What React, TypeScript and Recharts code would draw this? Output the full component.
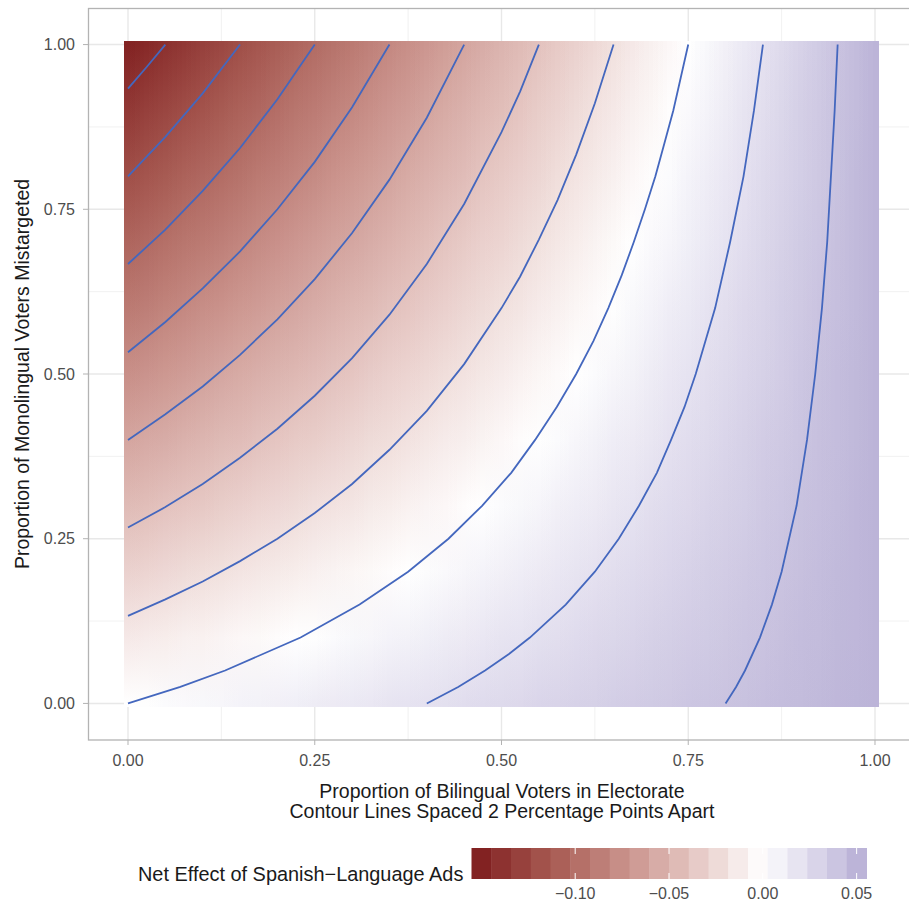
import React from 'react';
import {
  ComposedChart,
  XAxis,
  YAxis,
  CartesianGrid,
  ReferenceArea,
  Scatter,
} from 'recharts';

const FONT = '"Liberation Sans", Arial, Helvetica, sans-serif';

// axis breaks
const xTicks = [0, 0.25, 0.5, 0.75, 1];
const yTicks = [0, 0.25, 0.5, 0.75, 1];
const xMinor = [0.125, 0.375, 0.625, 0.875];
const yMinor = [0.125, 0.375, 0.625, 0.875];

// heatmap grid: one column per x value, entries for y = 0, 0.1, ..., 1
const xGrid = [
  0, 0.025, 0.05, 0.075, 0.1, 0.125, 0.15, 0.175, 0.2, 0.225, 0.25, 0.275, 0.3, 0.325,
  0.35, 0.375, 0.4, 0.425, 0.45, 0.475, 0.5, 0.525, 0.55, 0.575, 0.6, 0.625, 0.65,
  0.675, 0.7, 0.725, 0.75, 0.775, 0.8, 0.825, 0.85, 0.875, 0.9, 0.925, 0.95, 0.975, 1,
];
const yGrid = [0, 0.1, 0.2, 0.3, 0.4, 0.5, 0.6, 0.7, 0.8, 0.9, 1];

const netEffect = [
  [0.000, -0.015, -0.030, -0.045, -0.060, -0.075, -0.090, -0.105, -0.120, -0.135, -0.150],
  [0.001, -0.013, -0.028, -0.043, -0.057, -0.072, -0.087, -0.101, -0.116, -0.130, -0.145],
  [0.003, -0.012, -0.026, -0.040, -0.055, -0.069, -0.083, -0.097, -0.112, -0.126, -0.140],
  [0.004, -0.010, -0.024, -0.038, -0.052, -0.066, -0.080, -0.093, -0.107, -0.121, -0.135],
  [0.005, -0.009, -0.022, -0.036, -0.049, -0.063, -0.076, -0.090, -0.103, -0.117, -0.130],
  [0.006, -0.007, -0.020, -0.033, -0.046, -0.059, -0.073, -0.086, -0.099, -0.112, -0.125],
  [0.008, -0.005, -0.018, -0.031, -0.044, -0.056, -0.069, -0.082, -0.095, -0.107, -0.120],
  [0.009, -0.004, -0.016, -0.028, -0.041, -0.053, -0.066, -0.078, -0.090, -0.103, -0.115],
  [0.010, -0.002, -0.014, -0.026, -0.038, -0.050, -0.062, -0.074, -0.086, -0.098, -0.110],
  [0.011, 0.000, -0.012, -0.024, -0.035, -0.047, -0.059, -0.070, -0.082, -0.093, -0.105],
  [0.013, 0.001, -0.010, -0.021, -0.033, -0.044, -0.055, -0.066, -0.078, -0.089, -0.100],
  [0.014, 0.003, -0.008, -0.019, -0.030, -0.041, -0.052, -0.062, -0.073, -0.084, -0.095],
  [0.015, 0.005, -0.006, -0.017, -0.027, -0.038, -0.048, -0.059, -0.069, -0.080, -0.090],
  [0.016, 0.006, -0.004, -0.014, -0.024, -0.034, -0.045, -0.055, -0.065, -0.075, -0.085],
  [0.018, 0.008, -0.002, -0.012, -0.022, -0.031, -0.041, -0.051, -0.061, -0.070, -0.080],
  [0.019, 0.009, 0.000, -0.009, -0.019, -0.028, -0.038, -0.047, -0.056, -0.066, -0.075],
  [0.020, 0.011, 0.002, -0.007, -0.016, -0.025, -0.034, -0.043, -0.052, -0.061, -0.070],
  [0.021, 0.013, 0.004, -0.005, -0.013, -0.022, -0.031, -0.039, -0.048, -0.056, -0.065],
  [0.023, 0.014, 0.006, -0.002, -0.011, -0.019, -0.027, -0.035, -0.044, -0.052, -0.060],
  [0.024, 0.016, 0.008, 0.000, -0.008, -0.016, -0.024, -0.031, -0.039, -0.047, -0.055],
  [0.025, 0.018, 0.010, 0.003, -0.005, -0.013, -0.020, -0.028, -0.035, -0.043, -0.050],
  [0.026, 0.019, 0.012, 0.005, -0.002, -0.009, -0.017, -0.024, -0.031, -0.038, -0.045],
  [0.028, 0.021, 0.014, 0.007, 0.001, -0.006, -0.013, -0.020, -0.027, -0.033, -0.040],
  [0.029, 0.022, 0.016, 0.010, 0.003, -0.003, -0.010, -0.016, -0.022, -0.029, -0.035],
  [0.030, 0.024, 0.018, 0.012, 0.006, 0.000, -0.006, -0.012, -0.018, -0.024, -0.030],
  [0.031, 0.026, 0.020, 0.014, 0.009, 0.003, -0.003, -0.008, -0.014, -0.019, -0.025],
  [0.033, 0.027, 0.022, 0.017, 0.012, 0.006, 0.001, -0.004, -0.010, -0.015, -0.020],
  [0.034, 0.029, 0.024, 0.019, 0.014, 0.009, 0.005, 0.000, -0.005, -0.010, -0.015],
  [0.035, 0.031, 0.026, 0.022, 0.017, 0.013, 0.008, 0.004, -0.001, -0.006, -0.010],
  [0.036, 0.032, 0.028, 0.024, 0.020, 0.016, 0.012, 0.007, 0.003, -0.001, -0.005],
  [0.038, 0.034, 0.030, 0.026, 0.023, 0.019, 0.015, 0.011, 0.008, 0.004, 0.000],
  [0.039, 0.035, 0.032, 0.029, 0.025, 0.022, 0.019, 0.015, 0.012, 0.008, 0.005],
  [0.040, 0.037, 0.034, 0.031, 0.028, 0.025, 0.022, 0.019, 0.016, 0.013, 0.010],
  [0.041, 0.039, 0.036, 0.033, 0.031, 0.028, 0.026, 0.023, 0.020, 0.018, 0.015],
  [0.043, 0.040, 0.038, 0.036, 0.034, 0.031, 0.029, 0.027, 0.025, 0.022, 0.020],
  [0.044, 0.042, 0.040, 0.038, 0.036, 0.034, 0.033, 0.031, 0.029, 0.027, 0.025],
  [0.045, 0.044, 0.042, 0.041, 0.039, 0.038, 0.036, 0.035, 0.033, 0.032, 0.030],
  [0.046, 0.045, 0.044, 0.043, 0.042, 0.041, 0.040, 0.038, 0.037, 0.036, 0.035],
  [0.048, 0.047, 0.046, 0.045, 0.044, 0.044, 0.043, 0.042, 0.041, 0.041, 0.040],
  [0.049, 0.048, 0.048, 0.048, 0.047, 0.047, 0.046, 0.046, 0.046, 0.045, 0.045],
  [0.050, 0.050, 0.050, 0.050, 0.050, 0.050, 0.050, 0.050, 0.050, 0.050, 0.050],
];

// contour lines, 2 points apart: [x, y]
const contourM14 = [[0, 0.933], [0.025, 0.966], [0.05, 1]];
const contourM12 = [[0, 0.8], [0.05, 0.86], [0.1, 0.926], [0.15, 1]];
const contourM10 = [[0, 0.667], [0.05, 0.719], [0.1, 0.778], [0.15, 0.843], [0.2, 0.917], [0.25, 1]];
const contourM08 = [
  [0, 0.533], [0.05, 0.579], [0.1, 0.63], [0.15, 0.686], [0.2, 0.75], [0.25, 0.822],
  [0.3, 0.905], [0.35, 1],
];
const contourM06 = [
  [0, 0.4], [0.05, 0.439], [0.1, 0.481], [0.15, 0.529], [0.2, 0.583], [0.25, 0.644],
  [0.3, 0.714], [0.35, 0.795], [0.4, 0.889], [0.45, 1],
];
const contourM04 = [
  [0, 0.267], [0.05, 0.298], [0.1, 0.333], [0.15, 0.373], [0.2, 0.417], [0.25, 0.467],
  [0.3, 0.524], [0.35, 0.59], [0.4, 0.667], [0.45, 0.758], [0.5, 0.867], [0.525, 0.929], [0.55, 1],
];
const contourM02 = [
  [0, 0.133], [0.05, 0.158], [0.1, 0.185], [0.15, 0.216], [0.2, 0.25], [0.25, 0.289],
  [0.3, 0.333], [0.35, 0.385], [0.4, 0.444], [0.45, 0.515], [0.5, 0.6], [0.525, 0.648],
  [0.55, 0.704], [0.575, 0.764], [0.6, 0.833], [0.625, 0.911], [0.65, 1],
];
const contour00 = [
  [0, 0], [0.07, 0.025], [0.13, 0.05], [0.231, 0.1], [0.31, 0.15], [0.375, 0.2],
  [0.429, 0.25], [0.474, 0.3], [0.513, 0.35], [0.545, 0.4], [0.574, 0.45], [0.6, 0.5],
  [0.623, 0.55], [0.643, 0.6], [0.661, 0.65], [0.677, 0.7], [0.692, 0.75], [0.706, 0.8],
  [0.718, 0.85], [0.73, 0.9], [0.74, 0.95], [0.75, 1],
];
const contourP02 = [
  [0.4, 0], [0.442, 0.025], [0.478, 0.05], [0.51, 0.075], [0.538, 0.1], [0.586, 0.15],
  [0.625, 0.2], [0.657, 0.25], [0.684, 0.3], [0.708, 0.35], [0.727, 0.4], [0.745, 0.45],
  [0.76, 0.5], [0.786, 0.6], [0.806, 0.7], [0.824, 0.8], [0.838, 0.9], [0.85, 1],
];
const contourP04 = [
  [0.8, 0], [0.814, 0.025], [0.826, 0.05], [0.846, 0.1], [0.862, 0.15], [0.875, 0.2],
  [0.895, 0.3], [0.909, 0.4], [0.92, 0.5], [0.929, 0.6], [0.936, 0.7], [0.941, 0.8],
  [0.946, 0.9], [0.95, 1],
];
const contours = [
  contourM14, contourM12, contourM10, contourM08, contourM06,
  contourM04, contourM02, contour00, contourP02, contourP04,
];

// diverging fill scale
const paletteValues = [-0.15, -0.1125, -0.075, -0.0375, 0, 0.025, 0.05];
const paletteColors = ['#822222', '#a75a52', '#c88f88', '#e5c6c2', '#ffffff', '#dedaec', '#bcb4d8'];

// colour bar
const legendBins = [
  -0.150, -0.139, -0.129, -0.118, -0.108, -0.097, -0.087, -0.076, -0.066, -0.055,
  -0.045, -0.034, -0.024, -0.013, -0.003, 0.008, 0.018, 0.029, 0.039, 0.050,
];
const legendTicks = [-0.1, -0.05, 0, 0.05];
const legendLabels = ['\u22120.10', '\u22120.05', '0.00', '0.05'];

const hexRgb = (h: string) => [1, 3, 5].map((i) => parseInt(h.slice(i, i + 2), 16));

const fillFor = (v: number) => {
  if (v <= paletteValues[0]) return paletteColors[0];
  for (let i = 1; i < paletteValues.length; i++) {
    if (v <= paletteValues[i]) {
      const t = (v - paletteValues[i - 1]) / (paletteValues[i] - paletteValues[i - 1]);
      const a = hexRgb(paletteColors[i - 1]);
      const b = hexRgb(paletteColors[i]);
      const c = a.map((ch, k) => Math.round(ch + (b[k] - ch) * t));
      return `rgb(${c[0]},${c[1]},${c[2]})`;
    }
  }
  return paletteColors[paletteColors.length - 1];
};

const TILE_LO = -0.005;
const TILE_HI = 1.005;
const HALF = 0.0125;
// the columns are painted four times, shifted, so neighbouring columns blend
const SHIFTS = [-0.009375, -0.003125, 0.003125, 0.009375];

const noShape = () => <g />;

const App: React.FC = () => {
  const barLeft = 471.5;
  const binW = 19.75;
  const barTop = 848;
  const barH = 31;
  const legendX = (v: number) => barLeft + binW / 2 + ((v + 0.15) / 0.2) * (binW * 19);
  const last = xGrid.length - 1;

  return (
    <div
      style={{
        position: 'absolute',
        left: 0,
        top: 0,
        width: 909,
        height: 902,
        background: '#ffffff',
        fontFamily: FONT,
        overflow: 'hidden',
      }}
    >
      <ComposedChart width={909} height={902} margin={{ top: 8, right: 0, bottom: 0, left: 0 }}>
        <defs>
          {xGrid.map((x, j) => (
            <linearGradient key={`g${j}`} id={`col${j}`} x1="0" y1="0" x2="0" y2="1">
              {yGrid
                .map((y, i) => ({ y, v: netEffect[j][i] }))
                .reverse()
                .map((s, k) => (
                  <stop
                    key={k}
                    offset={(TILE_HI - s.y) / (TILE_HI - TILE_LO)}
                    stopColor={fillFor(s.v)}
                  />
                ))}
            </linearGradient>
          ))}
        </defs>
        <CartesianGrid
          stroke="#eeeeee"
          strokeWidth={0.8}
          verticalValues={xMinor}
          horizontalValues={yMinor}
        />
        <CartesianGrid
          stroke="#e8e8e8"
          strokeWidth={1.4}
          verticalValues={xTicks}
          horizontalValues={yTicks}
        />
        <XAxis
          type="number"
          dataKey="x"
          domain={[-0.05355, 1.04552]}
          allowDataOverflow
          ticks={xTicks}
          interval={0}
          tickFormatter={(v: number) => v.toFixed(2)}
          tick={{ fill: '#4d4d4d', fontSize: 16, fontFamily: FONT }}
          tickLine={{ stroke: '#b3b3b3' }}
          tickSize={5}
          tickMargin={10}
          axisLine={false}
          height={162}
        />
        <YAxis
          type="number"
          dataKey="y"
          domain={[-0.0555, 1.0555]}
          allowDataOverflow
          ticks={yTicks}
          interval={0}
          tickFormatter={(v: number) => v.toFixed(2)}
          tick={{ fill: '#4d4d4d', fontSize: 16, fontFamily: FONT }}
          tickLine={{ stroke: '#b3b3b3' }}
          tickSize={5}
          tickMargin={8}
          axisLine={false}
          width={88}
        />
        {SHIFTS.map((s, layer) =>
          xGrid.map((x, j) => (
            <ReferenceArea
              key={`c${layer}-${j}`}
              x1={j === 0 ? TILE_LO : Math.max(TILE_LO, x - HALF + s)}
              x2={
                j === last
                  ? TILE_HI
                  : Math.min(TILE_HI, x + HALF + s + (layer === 0 ? 0.004 : 0))
              }
              y1={TILE_LO}
              y2={TILE_HI}
              fill={`url(#col${j})`}
              fillOpacity={1 / (layer + 1)}
              stroke="none"
              shapeRendering="crispEdges"
              ifOverflow="visible"
            />
          ))
        )}
        {contours.map((pts, k) => (
          <Scatter
            key={`k${k}`}
            data={pts.map(([x, y]) => ({ x, y }))}
            line={{ stroke: '#4467be', strokeWidth: 1.8 }}
            lineType="joint"
            shape={noShape}
            isAnimationActive={false}
            legendType="none"
          />
        ))}
      </ComposedChart>

      <svg
        width={909}
        height={902}
        style={{ position: 'absolute', left: 0, top: 0, pointerEvents: 'none' }}
        fontFamily={FONT}
      >
        <rect x={88.5} y={8.5} width={840} height={731.5} fill="none" stroke="#b3b3b3" strokeWidth={1.3} />
        <text x={502} y={798} textAnchor="middle" fontSize={19.5} fill="#1a1a1a">
          Proportion of Bilingual Voters in Electorate
        </text>
        <text x={502} y={818} textAnchor="middle" fontSize={19.5} fill="#1a1a1a">
          Contour Lines Spaced 2 Percentage Points Apart
        </text>
        <text
          transform="translate(29,374) rotate(-90)"
          textAnchor="middle"
          fontSize={19.5}
          fill="#1a1a1a"
        >
          Proportion of Monolingual Voters Mistargeted
        </text>

        <text x={138} y={881} fontSize={19.9} fill="#1a1a1a">
          Net Effect of Spanish{'\u2212'}Language Ads
        </text>
        {legendBins.map((v, i) => (
          <rect
            key={`b${i}`}
            x={barLeft + i * binW}
            y={barTop}
            width={binW + 0.5}
            height={barH}
            fill={fillFor(v)}
          />
        ))}
        {legendTicks.map((v) => (
          <g key={`t${v}`}>
            <line x1={legendX(v)} x2={legendX(v)} y1={barTop} y2={barTop + 6} stroke="#ffffff" strokeWidth={1} />
            <line x1={legendX(v)} x2={legendX(v)} y1={barTop + barH - 6} y2={barTop + barH} stroke="#ffffff" strokeWidth={1} />
          </g>
        ))}
        {legendTicks.map((v, i) => (
          <text key={`l${v}`} x={legendX(v)} y={898.5} textAnchor="middle" fontSize={16} fill="#4d4d4d">
            {legendLabels[i]}
          </text>
        ))}
      </svg>
    </div>
  );
};

export default App;
